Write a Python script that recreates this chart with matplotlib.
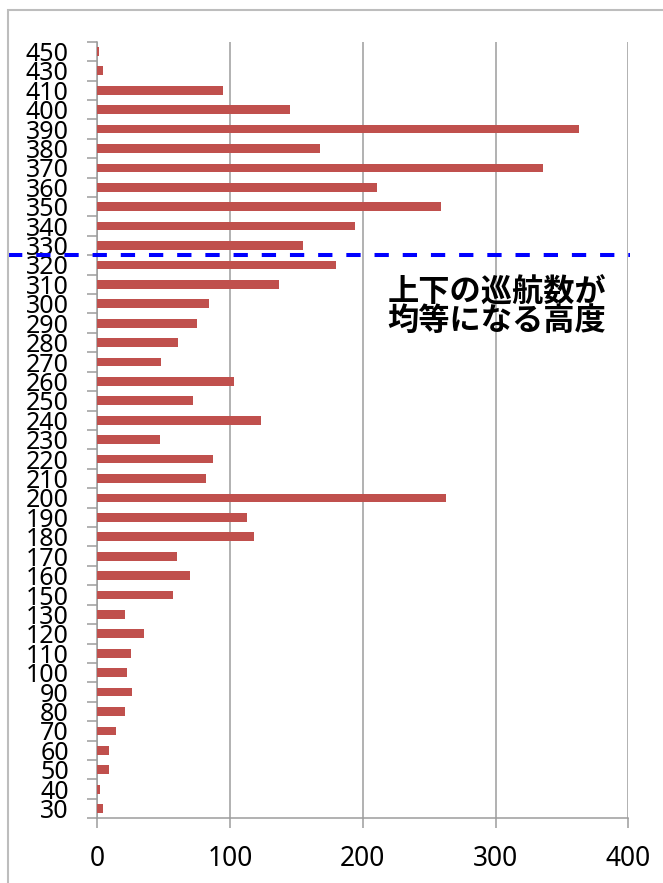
import matplotlib.pyplot as plt
from matplotlib.patches import Rectangle
from matplotlib.transforms import blended_transform_factory

plt.rcParams["font.family"] = ["Noto Sans CJK JP", "DejaVu Sans"]

# flight levels, bottom to top, and number of cruising flights at each level
levels = [30, 40, 50, 60, 70, 80, 90, 100, 110, 120, 130,
          150, 160, 170, 180, 190, 200, 210, 220, 230, 240,
          250, 260, 270, 280, 290, 300, 310, 320, 330, 340,
          350, 360, 370, 380, 390, 400, 410, 430, 450]
counts = [4, 2, 9, 9, 14, 21, 26, 22, 25, 35, 21,
          57, 70, 60, 118, 113, 263, 82, 87, 47, 123,
          72, 103, 48, 61, 75, 84, 137, 180, 155, 194,
          259, 211, 336, 168, 363, 145, 95, 4, 1]
x_ticks = [0, 100, 200, 300, 400]

# the split level sits between FL320 and FL330
split_pos = levels.index(320) + 0.5
note_lines = ["上下の巡航数が", "均等になる高度"]

fig = plt.figure(figsize=(6.63, 8.83), dpi=100)
ax = fig.add_axes([0.1468, 0.0733, 0.8009, 0.8795])

pos = list(range(len(levels)))
ax.barh(pos, counts, height=0.45, color="#C0504D", zorder=3)

ax.set_xlim(0, 400)
ax.set_ylim(-0.5, len(levels) - 0.5)

grid_color = "#9c9c9c"
ax.set_xticks(x_ticks)
ax.set_xticklabels([str(v) for v in x_ticks], fontsize=19, family="Noto Sans")
ax.tick_params(axis="x", length=7.2, width=1.1, color=grid_color, pad=12)
ax.xaxis.grid(True, color=grid_color, linewidth=1.1)

# labels at category centres, tick marks at category boundaries
ax.set_yticks(pos)
ax.set_yticklabels([str(v) for v in levels], fontsize=18, family="Noto Sans")
ax.tick_params(axis="y", which="major", length=0, pad=20.5)
ax.set_yticks([p - 0.5 for p in range(len(levels) + 1)], minor=True)
ax.tick_params(axis="y", which="minor", length=7.2, width=1.1, color=grid_color)

for side in ["top", "right"]:
    ax.spines[side].set_visible(False)
for side in ["left", "bottom"]:
    ax.spines[side].set_color(grid_color)
    ax.spines[side].set_linewidth(1.1)
ax.set_axisbelow(True)

# dashed split line runs across the labels too
trans = blended_transform_factory(fig.transFigure, ax.transData)
ax.plot([0.012, 0.950], [split_pos, split_pos], transform=trans, color="blue",
        linewidth=2.9, dashes=(3.55, 3.45), clip_on=False, zorder=5)

for i, line in enumerate(note_lines):
    ax.text(0.547, 0.677 - i * 0.0365, line, transform=ax.transAxes,
            fontsize=22.5, fontweight="bold", ha="left", va="center", zorder=6)

# outer chart frame
fig.patches.append(Rectangle((8 / 663, -0.1), 1.2, (883 - 10) / 883 + 0.1,
                             transform=fig.transFigure, fill=False,
                             edgecolor="#bdbdbd", linewidth=1.5))

fig.savefig("out.png", dpi=100)
